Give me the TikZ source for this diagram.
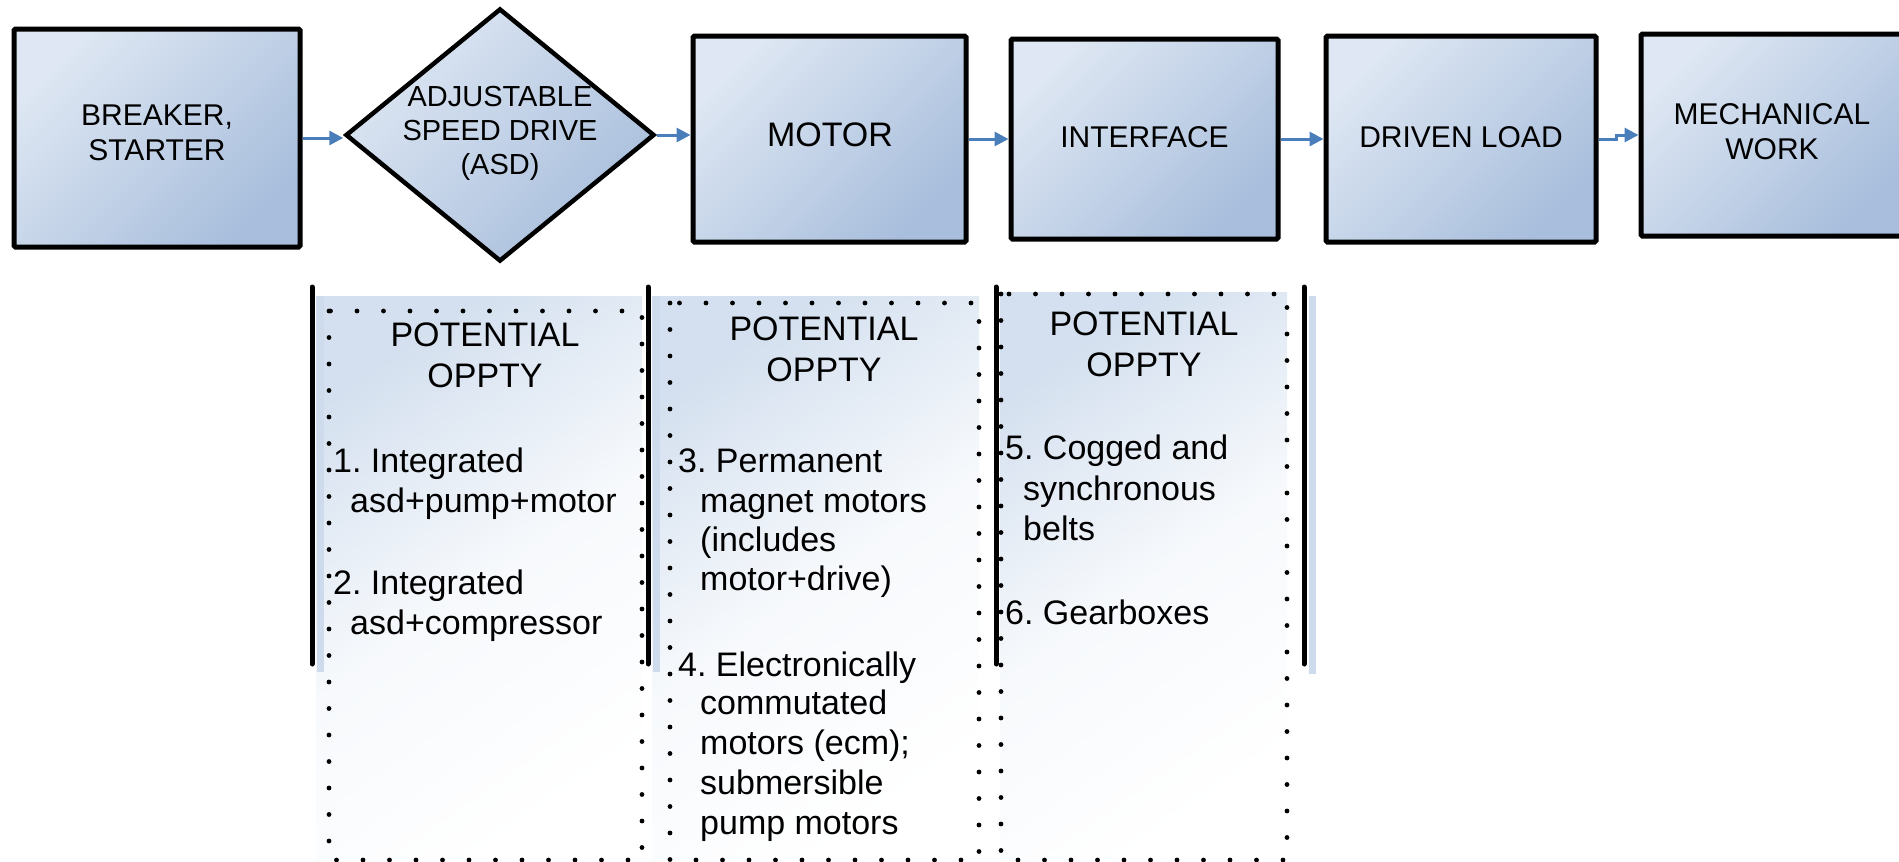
\documentclass[tikz,border=0pt]{standalone}
\usepackage{fontspec}
\setmainfont{Liberation Sans}
\usetikzlibrary{shapes.geometric,arrows.meta}
\definecolor{boxlight}{RGB}{222,231,243}
\definecolor{boxdark}{RGB}{168,190,220}
\definecolor{flowblue}{RGB}{74,126,187}
\definecolor{panelblue}{RGB}{212,224,239}
\definecolor{stripeblue}{RGB}{206,219,237}
\frenchspacing
\begin{document}
\begin{tikzpicture}[x=1pt,y=-1pt,
  stage/.style={draw=black, line width=5pt, rounded corners=1.5pt,
    top color=boxlight, bottom color=boxdark, shading angle=45, inner sep=0pt},
  asdshape/.style={diamond, draw=black, line width=4.5pt,
    top color=boxlight, bottom color=boxdark, shading angle=45, inner sep=0pt},
  stagetext/.style={align=center, font=\fontsize{30}{35}\selectfont, inner sep=0pt},
  flow/.style={draw=flowblue, line width=3pt,
    -{Triangle[length=14pt,width=14pt]}},
  bar/.style={line width=5pt, line cap=round},
  shadowbar/.style={draw=stripeblue, line width=7pt},
  dotbox/.style={line width=4.8pt, line cap=round, dash pattern=on 0pt off 26.5pt},
  panel/.style={top color=panelblue, bottom color=white, middle color=white!80!panelblue, shading angle=35},
  head/.style={align=center, font=\fontsize{34}{41}\selectfont, inner sep=0pt},
  item/.style={anchor=base west, font=\fontsize{34}{40}\selectfont, inner sep=0pt},
]
\useasboundingbox (0,0) rectangle (1899,862);

% ---- process chain ----
\node[stage, minimum width=286pt, minimum height=218pt] (brk) at (157,138) {};
\node[asdshape, minimum width=309pt, minimum height=253pt] (asd) at (500,135) {};
\node[stage, minimum width=273pt, minimum height=206pt] (mot) at (829.5,139) {};
\node[stage, minimum width=267pt, minimum height=200pt] (intf) at (1144.5,139) {};
\node[stage, minimum width=270pt, minimum height=206pt] (load) at (1461,139) {};
\node[stage, minimum width=262pt, minimum height=202pt] (mech) at (1772,135) {};

\node[stagetext] (brkT) at (157,133) {BREAKER,\\STARTER};
\node[stagetext, font=\fontsize{29}{34}\selectfont] (asdT) at (500,133) {ADJUSTABLE\\SPEED DRIVE\\(ASD)};
\node[stagetext, font=\fontsize{34}{40}\selectfont] (motT) at (830,135) {MOTOR};
\node[stagetext] (intfT) at (1144.5,137) {INTERFACE};
\node[stagetext] (loadT) at (1461,137) {DRIVEN LOAD};
\node[stagetext] (mechT) at (1772,132) {MECHANICAL\\WORK};

\draw[flow] (brk.east) -- (brk.east -| asd.west);
\draw[flow] (asd.east) -- (asd.east -| mot.west);
\draw[flow] (mot.east) -- (mot.east -| intf.west);
\draw[flow] (intf.east) -- (intf.east -| load.west);
\draw[flow] (load.east) -- ++(18,0) |- (mech.west);

% ---- opportunity panels ----
\shade[panel] (316,296) rectangle (642,862);
\shade[panel] (652,296) rectangle (979,862);
\shade[panel] (1000,292) rectangle (1287,862);

\draw[shadowbar] (320,296) -- (320,672);
\draw[shadowbar] (656,296) -- (656,672);
\draw[shadowbar] (1312,296) -- (1312,674);

\draw[dotbox] (329,311) rectangle (642,860);
\draw[dotbox] (670,303) rectangle (979,860);
\draw[dotbox] (1001,294) rectangle (1287,860);

\draw[bar] (312,287) -- (312,664);
\draw[bar] (648,287) -- (648,664);
\draw[bar] (996,287) -- (996,664);
\draw[bar] (1304,287) -- (1304,664);

% panel 1
\node[head] (h1) at (485,355) {POTENTIAL\\OPPTY};
\node[item] (i1a) at (333,472) {1. Integrated};
\node[item] (i1b) at (350,512) {asd+pump+motor};
\node[item] (i2a) at (333,594) {2. Integrated};
\node[item] (i2b) at (350,634) {asd+compressor};

% panel 2
\node[head] (h2) at (824,349) {POTENTIAL\\OPPTY};
\node[item] (i3a) at (678,472) {3. Permanent};
\node[item] (i3b) at (700,512) {magnet motors};
\node[item] (i3c) at (700,551) {(includes};
\node[item] (i3d) at (700,590) {motor+drive)};
\node[item] (i4a) at (678,676) {4. Electronically};
\node[item] (i4b) at (700,714) {commutated};
\node[item] (i4c) at (700,754) {motors (ecm);};
\node[item] (i4d) at (700,794) {submersible};
\node[item] (i4e) at (700,834) {pump motors};

% panel 3
\node[head] (h3) at (1144,344) {POTENTIAL\\OPPTY};
\node[item] (i5a) at (1005,459) {5. Cogged and};
\node[item] (i5b) at (1023,500) {synchronous};
\node[item] (i5c) at (1023,540) {belts};
\node[item] (i6a) at (1005,624) {6. Gearboxes};
\end{tikzpicture}
\end{document}
